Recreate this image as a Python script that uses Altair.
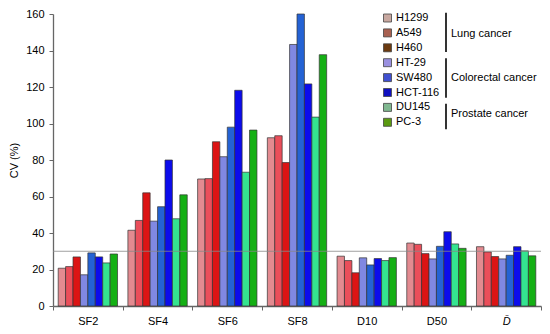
import altair as alt
import pandas as pd

categories = ["SF2", "SF4", "SF6", "SF8", "D10", "D50", "D\u0304"]
series = ["H1299", "A549", "H460", "HT-29", "SW480", "HCT-116", "DU145", "PC-3"]

h1299 = [20.7, 41.5, 69.6, 92.2, 27.3, 34.5, 32.5]
a549 = [21.6, 46.9, 69.8, 93.3, 24.9, 33.8, 29.6]
h460 = [26.9, 62.0, 90.0, 78.6, 18.2, 28.7, 27.1]
ht29 = [17.1, 46.5, 81.8, 143.3, 26.4, 25.8, 25.8]
sw480 = [29.1, 54.4, 98.0, 160.0, 22.5, 32.7, 27.8]
hct116 = [26.9, 80.0, 118.2, 121.7, 26.0, 40.7, 32.5]
du145 = [23.6, 47.8, 73.3, 103.5, 24.9, 34.0, 30.2]
pc3 = [28.5, 60.9, 96.4, 137.7, 26.5, 31.6, 27.5]

values = [h1299, a549, h460, ht29, sw480, hct116, du145, pc3]

bar_colors = ["#E38A90", "#EA4E5A", "#DC1414", "#8088E2", "#2462D4", "#0C0CEC", "#34E490", "#14B014"]
legend_colors = ["#C8A8A0", "#A86050", "#6B3A10", "#9A90E0", "#4050D0", "#1010C0", "#80B890", "#5A9A10"]

groups = ["Lung cancer", "Colorectal cancer", "Prostate cancer"]
threshold = 30

FONT = "Liberation Sans"

rows = []
for s, vals in zip(series, values):
    for c, v in zip(categories, vals):
        rows.append({"cat": c, "series": s, "cv": v})
df = pd.DataFrame(rows)

y_scale = alt.Scale(domain=[0, 160], nice=False)
y_axis = alt.Axis(values=[0, 20, 40, 60, 80, 100, 120, 140, 160], grid=False, labelOverlap=False,
                  domainColor="#666666", tickColor="#666666", domainWidth=1.3,
                  tickSize=4, labelPadding=5, labelFontSize=11, labelColor="black",
                  labelFont=FONT, titleFont=FONT, titleFontSize=11,
                  titleFontWeight="normal", titleColor="black", titlePadding=6)
x_scale = alt.Scale(paddingInner=0, paddingOuter=0)
x_axis = alt.Axis(labelAngle=0, tickBand="extent", domainColor="#666666",
                  tickColor="#666666", domainWidth=1.3, tickSize=4,
                  labelPadding=5, labelFontSize=11, labelColor="black",
                  labelFont=FONT,
                  labelFontStyle={"condition": {"test": "datum.value == 'D\u0304'", "value": "italic"}, "value": "normal"})

bars = alt.Chart(df).mark_bar(stroke="#333333", strokeWidth=0.7).encode(
    x=alt.X("cat:N", sort=categories, title=None, scale=x_scale, axis=x_axis),
    xOffset=alt.XOffset("series:N", sort=series,
                        scale=alt.Scale(paddingOuter=0.7, paddingInner=0)),
    y=alt.Y("cv:Q", title="CV (%)", scale=y_scale, axis=y_axis),
    color=alt.Color("series:N", sort=series,
                    scale=alt.Scale(domain=series, range=bar_colors), legend=None),
)

ref = alt.Chart(pd.DataFrame({"cv": [threshold]})).mark_rule(
    color="#888888", strokeWidth=0.8).encode(
    y=alt.Y("cv:Q", title="CV (%)", scale=y_scale, axis=y_axis))

leg_df = pd.DataFrame({"name": series, "cat": [categories[0]] * len(series), "cv": [0] * len(series)})
legend_layer = alt.Chart(leg_df).mark_square(opacity=0, size=1).encode(
    x=alt.X("cat:N", sort=categories, title=None, scale=x_scale, axis=x_axis),
    y=alt.Y("cv:Q", title="CV (%)", scale=y_scale, axis=y_axis),
    color=alt.Color("name:N", sort=series,
                    scale=alt.Scale(domain=series, range=legend_colors),
                    legend=alt.Legend(title=None, orient="none", legendX=329, legendY=-1.5,
                                      padding=0, symbolType="square", symbolSize=64,
                                      symbolOpacity=1, symbolStrokeColor="#444444",
                                      symbolStrokeWidth=0.8, labelFont=FONT,
                                      labelFontSize=11, labelColor="black",
                                      labelOffset=3, rowPadding=1.9)),
)

br_df = pd.DataFrame({"g": groups, "y1": [-1.3, 44.3, 89.7], "y2": [38, 83.7, 115.3],
                      "ty": [19.7, 63.7, 100.3]})
brackets = []
texts = []
for i, g in enumerate(groups):
    brackets.append(alt.Chart(br_df.iloc[[i]]).mark_rule(color="black", strokeWidth=1.6).encode(
        x=alt.value(393), y=alt.value(float(br_df.y1[i])), y2=alt.value(float(br_df.y2[i]))))
    texts.append(alt.Chart(br_df.iloc[[i]]).mark_text(
        align="left", baseline="middle", font=FONT, fontSize=11, color="black").encode(
        x=alt.value(398), y=alt.value(float(br_df.ty[i])), text="g:N"))

chart = alt.layer(bars, ref, legend_layer, *brackets, *texts).resolve_scale(
    color="independent").properties(
    width=534, height=318, padding=0,
    autosize=alt.AutoSizeParams(type="fit", contains="padding")).configure_view(stroke=None)

chart.save("out.html", embed_options={"renderer": "svg", "actions": False})
